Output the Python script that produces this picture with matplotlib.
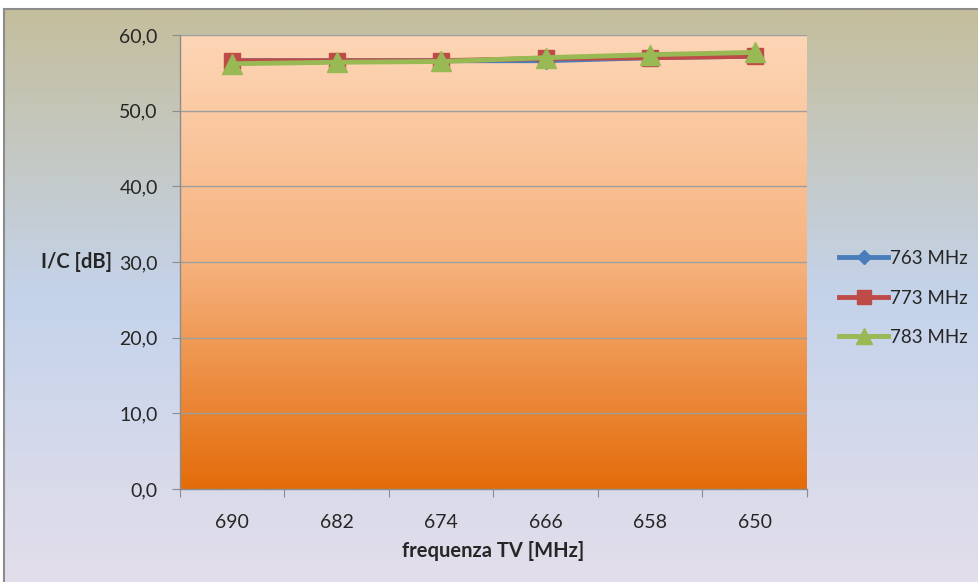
import numpy as np
import matplotlib
matplotlib.use("Agg")
import matplotlib.pyplot as plt
from matplotlib.colors import LinearSegmentedColormap

plt.rcParams['font.family'] = ['Lato', 'DejaVu Sans']

categories = ["690", "682", "674", "666", "658", "650"]
series_names = ["763 MHz", "773 MHz", "783 MHz"]
v763 = [56.6, 56.6, 56.6, 56.6, 57.0, 57.2]
v773 = [56.6, 56.6, 56.6, 56.9, 57.0, 57.2]
v783 = [56.2, 56.4, 56.5, 57.0, 57.4, 57.7]
yticks = [0, 10, 20, 30, 40, 50, 60]

W, H = 979, 582
fig = plt.figure(figsize=(W / 100, H / 100), dpi=100)
fig.patch.set_facecolor("white")

# figure background gradient
bg = fig.add_axes([4 / W, 0, 1 - 4 / W, 1 - 9 / H], zorder=-10)
bg_cmap = LinearSegmentedColormap.from_list(
    "bg", [(0, "#C4BE9C"), (0.5, "#C4D3EA"), (1, "#E3DEEB")])
grad = np.linspace(0, 1, 256).reshape(-1, 1)
bg.imshow(grad, aspect="auto", cmap=bg_cmap, extent=[0, 1, 0, 1], origin="upper")
bg.set_xticks([]); bg.set_yticks([])
for s in bg.spines.values():
    s.set_color("#8C8C8C"); s.set_linewidth(1.5)
bg.spines["right"].set_visible(False)
bg.spines["bottom"].set_visible(False)

left, right, top, bottom = 180, 807, 35, 489
ax = fig.add_axes([left / W, 1 - bottom / H, (right - left) / W, (bottom - top) / H])
ax.set_xlim(-0.5, len(categories) - 0.5)
ax.set_ylim(0, 60)

pa_cmap = LinearSegmentedColormap.from_list(
    "pa", [(0, "#FDD6B6"), (0.5, "#F6B27E"), (1, "#E46C0A")])
ax.imshow(grad, aspect="auto", cmap=pa_cmap,
          extent=[-0.5, len(categories) - 0.5, 0, 60], origin="upper", zorder=0)

for y in yticks[1:]:
    ax.axhline(y, color="#9E9E9E", lw=1.0, zorder=1)

x = np.arange(len(categories))
ax.plot(x, v763, color="#4A7EBB", lw=3.5, marker="D", ms=8,
        mfc="#4A7EBB", mec="#4A7EBB", label=series_names[0], zorder=3)
ax.plot(x, v773, color="#BE4B48", lw=3.5, marker="s", ms=12,
        mfc="#BE4B48", mec="#BE4B48", label=series_names[1], zorder=4)
ax.plot(x, v783, color="#98B954", lw=3.5, marker="^", ms=14,
        mfc="#98B954", mec="#98B954", label=series_names[2], zorder=5)

ax.set_xticks(np.arange(-0.5, len(categories), 1.0))
ax.set_xticklabels([])
ax.set_xticks(x, minor=True)
ax.set_xticklabels(categories, minor=True)
ax.tick_params(axis="x", which="major", length=6, color="#8C8C8C", direction="out")
ax.tick_params(axis="x", which="minor", length=0, pad=18, labelsize=14, labelcolor="#262626")
ax.set_yticks(yticks)
ax.set_yticklabels([f"{v:.1f}".replace(".", ",") for v in yticks])
ax.tick_params(axis="y", length=6, color="#8C8C8C", direction="out", pad=10,
               labelsize=14, labelcolor="#262626")

for s in ["top", "right"]:
    ax.spines[s].set_visible(False)
for s in ["left", "bottom"]:
    ax.spines[s].set_color("#8C8C8C")
    ax.spines[s].set_linewidth(1.0)

fig.text(112 / W, 1 - 262 / H, "I/C [dB]", ha="right", va="center",
         fontsize=14.5, fontweight="bold", color="#262626")
fig.text((left + right) / 2 / W, 1 - 551 / H, "frequenza TV [MHz]", ha="center",
         va="center", fontsize=14.5, fontweight="bold", color="#262626")

leg = fig.legend(loc="center left", bbox_to_anchor=(832 / W, 1 - 298 / H),
                 frameon=False, fontsize=13.5, handlelength=2.6, handletextpad=0.1,
                 labelspacing=1.2, borderaxespad=0, markerscale=0.85)
for t in leg.get_texts():
    t.set_color("#262626")

fig.savefig("out.png", dpi=100)
